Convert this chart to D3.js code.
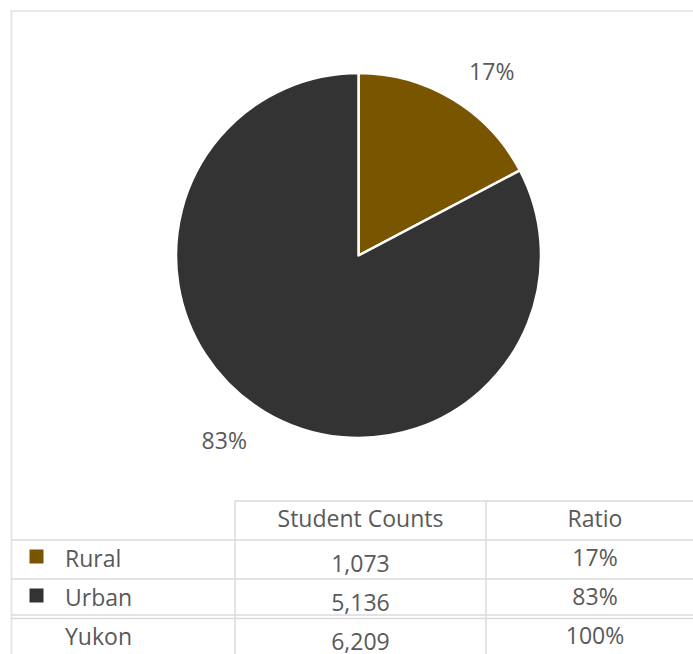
<!DOCTYPE html>
<html>
<head>
<meta charset="utf-8">
<script src="https://cdn.jsdelivr.net/npm/d3@7/dist/d3.min.js"></script>
<style>
  html, body { margin: 0; padding: 0; background: #fff; }
  svg { display: block; }
  text { font-family: "Open Sans", "Noto Sans", sans-serif; fill: #595959; }
</style>
</head>
<body>
<svg id="chart" width="693" height="654"></svg>
<script>
// Student counts by area
const categories = ["Rural", "Urban"];
const counts = [1073, 5136];
const colors = ["#7a5500", "#333333"];
const totalLabel = "Yukon";
const headers = ["Student Counts", "Ratio"];

const total = d3.sum(counts);
const ratios = counts.map(c => c / total);
const fmtCount = d3.format(",");
const fmtPct = d3.format(".0%");

const svg = d3.select("#chart");
const W = 693, H = 654;

// Outer frame (top and left edges visible)
const frame = svg.append("g").attr("stroke", "#e2e2e2").attr("stroke-width", 1.6).attr("fill", "none");
frame.append("line").attr("x1", 10.5).attr("x2", W + 5).attr("y1", 11).attr("y2", 11);
frame.append("line").attr("x1", 11.5).attr("x2", 11.5).attr("y1", 10.5).attr("y2", H + 5);

// Pie
const cx = 358.5, cy = 255.5, R = 182.5;
const pie = d3.pie().sort(null).value(d => d.value);
const arcs = pie(categories.map((c, i) => ({ name: c, value: counts[i], color: colors[i] })));
const arc = d3.arc().innerRadius(0).outerRadius(R);
const labelArc = d3.arc().innerRadius(R + 18).outerRadius(R + 18);

const gPie = svg.append("g").attr("transform", `translate(${cx},${cy})`);
gPie.selectAll("path")
  .data(arcs)
  .join("path")
  .attr("d", arc)
  .attr("fill", d => d.data.color)
  .attr("stroke", "#fff")
  .attr("stroke-width", 2.5)
  .attr("stroke-linejoin", "round");

gPie.selectAll("text.pct")
  .data(arcs)
  .join("text")
  .attr("class", "pct")
  .each(function (d) {
    const [px, py] = labelArc.centroid(d);
    const mid = (d.startAngle + d.endAngle) / 2;
    const right = Math.sin(mid) >= 0;
    const upper = Math.cos(mid) >= 0;
    d3.select(this)
      .attr("x", right ? px + 7 : px - 8)
      .attr("y", upper ? py - 4 : py + 22)
      .attr("text-anchor", right ? "start" : "end");
  })
  .style("font-size", "23px")
  .text(d => fmtPct(d.value / total));

// Data table
const rowKeys = ["header", ...categories, totalLabel];
const y = d3.scaleBand().domain(rowKeys).range([501, 501 + 39 * rowKeys.length]).padding(0);
const colEdges = [11.5, 235, 486, 704];
const colMid = i => (colEdges[i] + colEdges[i + 1]) / 2;

const grid = svg.append("g").attr("stroke", "#dadada").attr("stroke-width", 1.5);
// header top line (only over value columns)
grid.append("line").attr("x1", colEdges[1]).attr("x2", W + 5).attr("y1", y("header")).attr("y2", y("header"));
// row separators
rowKeys.slice(1).forEach(k => {
  const yy = y(k);
  if (k === totalLabel) {
    grid.append("line").attr("x1", colEdges[0]).attr("x2", W + 5).attr("y1", yy - 3).attr("y2", yy - 3);
    grid.append("line").attr("x1", colEdges[0]).attr("x2", W + 5).attr("y1", yy + 0.5).attr("y2", yy + 0.5);
  } else {
    grid.append("line").attr("x1", colEdges[0]).attr("x2", W + 5).attr("y1", yy).attr("y2", yy);
  }
});
// column dividers
[1, 2].forEach(i => {
  grid.append("line").attr("x1", colEdges[i]).attr("x2", colEdges[i]).attr("y1", y("header")).attr("y2", H + 5);
});

const fs = "23px";
// headers
headers.forEach((h, i) => {
  svg.append("text")
    .attr("x", colMid(i + 1))
    .attr("y", y("header") + 26)
    .attr("text-anchor", "middle")
    .style("font-size", fs)
    .text(h);
});

// body rows
const rows = categories.map((c, i) => ({ name: c, count: counts[i], ratio: ratios[i], color: colors[i] }))
  .concat([{ name: totalLabel, count: total, ratio: 1, color: null }]);

const gRows = svg.selectAll("g.row")
  .data(rows)
  .join("g")
  .attr("class", "row")
  .attr("transform", d => `translate(0,${y(d.name)})`);

gRows.filter(d => d.color)
  .append("rect")
  .attr("x", 29.5).attr("y", 9.5)
  .attr("width", 14).attr("height", 14)
  .attr("fill", d => d.color);

gRows.append("text")
  .attr("x", 65)
  .attr("y", 26.5)
  .style("font-size", fs)
  .text(d => d.name);

gRows.append("text")
  .attr("x", colMid(1))
  .attr("y", 31.5)
  .attr("text-anchor", "middle")
  .style("font-size", fs)
  .text(d => fmtCount(d.count));

gRows.append("text")
  .attr("x", colMid(2))
  .attr("y", 25.5)
  .attr("text-anchor", "middle")
  .style("font-size", fs)
  .text(d => fmtPct(d.ratio));
</script>
</body>
</html>
